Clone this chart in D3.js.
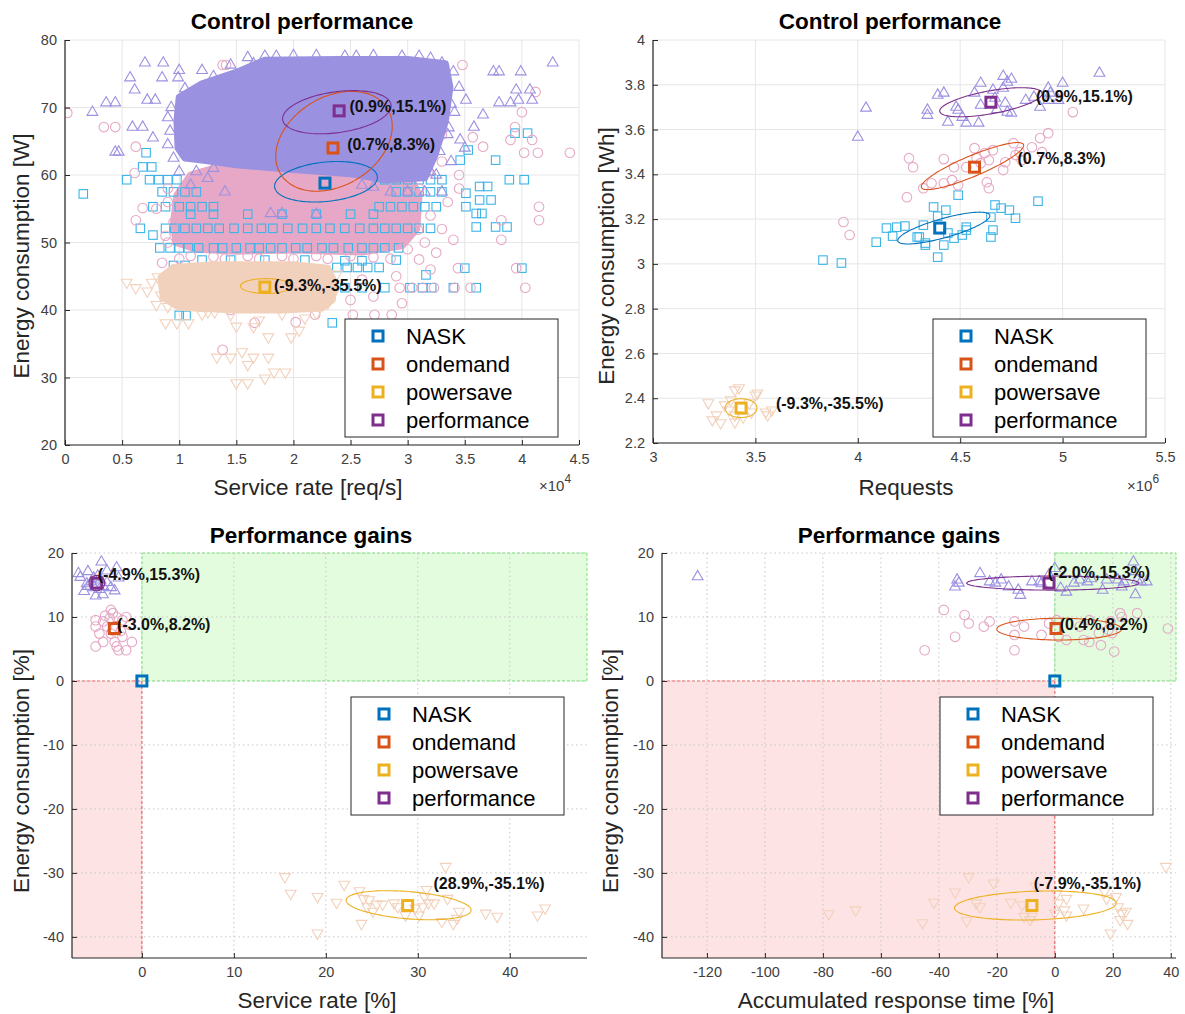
<!DOCTYPE html>
<html><head><meta charset="utf-8">
<script src="https://cdn.jsdelivr.net/npm/d3@7"></script>
<style>
body{margin:0;background:#fff;}
svg{display:block;font-family:"Liberation Sans",Arial,Helvetica,sans-serif;}
</style></head><body>
<svg id="chart" width="1185" height="1014"></svg>
<script>
// ---------------- shared ----------------
const seriesNames = ["NASK", "ondemand", "powersave", "performance"];
const meanColors = ["#0072BD", "#D95319", "#EDB120", "#7E2F8E"];
const pointColors = ["#3DB4E8", "#E6A8C6", "#F2D1BC", "#9B91E1"];
const markerShapes = ["square", "circle", "triDown", "triUp"];

// ---------------- panel 1: Control performance, service rate vs power ----------------
const p1XTicks = [0, 0.5, 1, 1.5, 2, 2.5, 3, 3.5, 4, 4.5];
const p1YTicks = [20, 30, 40, 50, 60, 70, 80];
// outlines of the saturated (overplotted) region of each cloud
const p1CoreOndemand = [[0.97,50],[0.95,53],[0.98,57],[1.1,60],[1.5,62],[2.5,62],[3.0,60.5],[3.1,57],[3.08,52],[2.95,49.5],[2.6,48.6],[2.0,48.9],[1.5,48.7],[1.15,49]];
const p1CorePowersave = [[0.84,44.8],[0.95,46.3],[1.3,46.7],[2.0,46.7],[2.3,46.2],[2.36,44],[2.34,41.5],[2.25,40.3],[1.9,40.0],[1.5,40.0],[1.0,40.4],[0.86,41.8]];
const p1CorePerformance = [[0.99,64],[0.98,68],[1.0,71.5],[1.2,73.5],[1.5,75.2],[1.75,77.0],[2.4,77.1],[3.0,77.1],[3.33,76.5],[3.37,73],[3.33,68],[3.24,63],[3.15,59.6],[2.8,59.3],[2.5,60.2],[2.0,60.8],[1.5,61.5],[1.2,62.2],[1.05,62.5]];
const p1NASK = [
 [0.83,49.2],[0.92,49.2],[1.0,49.2],[1.08,49.2],[1.17,49.2],[1.3,49.2],[1.38,49.2],[1.5,49.2],[1.62,49.2],[1.7,49.2],[1.8,49.2],[1.9,49.2],[2.02,49.2],[2.12,49.2],[2.25,49.2],[2.35,49.2],[2.48,49.2],[2.6,49.2],[2.7,49.2],[2.8,49.2],[2.92,49.2],
 [0.66,52.1],[0.88,52.1],[0.96,52.1],[1.05,52.1],[1.15,52.1],[1.25,52.1],[1.35,52.1],[1.48,52.1],[1.6,52.1],[1.72,52.1],[1.82,52.1],[1.95,52.1],[2.08,52.1],[2.2,52.1],[2.32,52.1],[2.45,52.1],[2.58,52.1],[2.7,52.1],[2.8,52.1],[2.9,52.1],[3.0,52.1],[3.1,52.1],[3.2,52.1],
 [1.1,54.2],[1.3,54.2],[1.6,54.2],[1.9,54.2],[2.2,54.2],[2.5,54.2],[2.7,54.2],[1.2,47.4],[1.45,47.4],[1.75,47.4],[2.1,47.4],[2.9,47.4],
 [2.38,46.3],[2.47,46.3],[2.56,46.3],[2.65,46.3],[2.75,46.3],[3.50,46.2],[4.0,46.2],[2.45,47.3],[2.6,47.3],[0.95,46.6],[1.05,46.6],
 [0.77,55.3],[0.88,55.3],[1.0,55.3],[1.1,55.3],[1.2,55.3],[1.3,55.3],[2.75,55.3],[2.85,55.3],[2.95,55.3],[3.05,55.3],[3.15,55.3],[3.25,55.3],[3.51,55.3],
 [0.16,57.2],[0.85,57.5],[0.95,57.5],[1.05,57.5],[1.15,57.5],[2.9,57.5],[3.0,57.5],[3.1,57.5],[3.2,57.5],[3.3,57.5],
 [0.54,59.3],[0.74,59.3],[0.82,59.3],[0.9,59.3],[0.98,59.3],[2.8,59.3],[2.9,59.3],[3.0,59.3],[3.1,59.3],[3.2,59.3],[3.3,59.3],[3.89,59.3],[4.02,59.3],
 [2.45,43.3],[2.6,43.3],[2.8,43.3],[3.02,43.3],[3.13,43.3],[3.21,43.3],[3.40,43.3],[3.60,43.3],
 [3.77,62.2],[3.53,63.7],[3.46,62.2],[3.94,66.2],[4.05,66.2],[0.71,63.3],[0.68,61.2],[0.76,61.2],[3.63,58.3],[3.70,58.3],[3.51,57.3],[3.63,56.3],[3.73,56.3],[3.6,54.3],[3.65,54.3],[3.60,52.3],[3.77,52.3],[3.87,52.3],[2.34,38.1],[1.0,39.2],[1.06,39.2],[2.3,45.2],[3.16,45.2],[0.77,51.1]
];
const p1Ondemand = [
 [0.02,69.2],[0.34,67.1],[0.44,67.1],[0.62,64.2],[1.38,76.3],[1.41,76.3],[1.71,76.3],[3.48,76.3],[4.12,72.3],[3.94,67.1],[4.0,69.3],[3.90,65.2],[4.09,65.2],[4.02,63.3],[4.14,63.3],[4.42,63.3],[4.15,55.3],[4.15,53.3],[3.82,53.3],[3.82,50.4],[3.40,50.4],[3.57,65.6],[3.66,64.2],[0.61,60.3],[0.68,55.1],[0.62,53.3],[3.09,51.9],[2.96,50.4],[3.44,46.2],[3.95,46.2],[4.03,43.3],[2.93,43.3],[3.04,43.3],[3.13,43.3],[3.23,43.3],[3.41,43.3],[3.55,43.3],[2.52,39.3],[2.71,39.3],[2.86,39.3],[2.19,39.3],[2.02,38.2],[1.66,38.1],[1.38,34.1],[1.45,40],[3.1,47.5],[3.2,46],[0.9,50],[0.85,47],[0.95,53],[3.3,62],[3.45,60],[3.3,66],[3.15,64],[2.5,41.5],[2.7,42],[2.95,41],[3.2,54],[3.3,52],[3.35,56],[3.1,58],[3.45,58],
 [1.0,47.6],[1.1,48],[1.3,47.9],[1.4,47.6],[1.6,48],[1.7,47.6],[1.9,48],[2.0,47.6],[2.2,48],[2.3,47.6],[2.5,48],[2.7,47.8],[2.85,47.6],[3.0,49],[2.6,44.5],[2.9,45],[0.8,55],[0.9,58],[0.88,51],[0.9,56],[3.15,50],[3.18,60.5],[3.25,48.5]
];
const p1Powersave = [
 [1.33,33.0],[1.45,33.0],[1.55,33.8],[1.65,33.0],[1.78,33.0],[1.60,31.9],[1.50,29.2],[1.60,29.2],[1.75,29.9],[1.83,30.8],[1.93,30.8],[1.98,36.0],[2.05,37.0],[1.78,36.0],[1.65,37.5],[1.50,37.6],[0.62,43.3],[0.54,44.1],[0.76,44.1],[0.81,44.9],[0.84,42.2],[0.88,38.1],[0.98,38.1],[1.08,38.1],[1.25,39.7],[1.31,39.7],[1.7,38.5],[2.2,39.5],[2.3,41],[0.9,40.5],[2.1,38.8],
 [0.72,42.8],[0.8,40.8],[1.2,39.4],[1.45,39.3],[1.9,39.4],[2.35,42.5],[2.38,45.3]
];
const p1Performance = [
 [0.24,69.3],[0.36,70.7],[0.44,70.7],[0.57,74.4],[0.70,76.6],[0.86,76.6],[0.61,72.6],[0.44,63.4],[0.47,63.4],[0.59,67.1],[0.68,67.1],[0.72,71.1],[0.85,74.4],[0.99,74.4],[0.79,71.1],[0.77,65.5],[0.90,68.5],[0.95,62.5],[1.0,60.5],[1.1,58.5],[1.25,59.5],[1.4,57.5],
 [3.75,75.3],[3.80,75.3],[3.99,75.3],[4.27,76.6],[3.95,72.6],[4.07,72.6],[3.97,71.1],[4.09,71.1],[3.80,70.7],[3.90,70.7],[3.66,68.9],[3.58,67.1],[3.41,69.3],[3.51,71.1],[3.46,65.2],[3.30,76.6],[3.40,75.3],[3.45,73],[3.38,62],[3.25,60],[3.0,57.5],[3.15,57.5],[3.3,57.5],[2.85,57.5],[1.8,54.3],[1.9,54.3],[2.2,54.2],[3.5,64],[3.35,66],[1.2,75.5],[1.45,76.3],[1.0,75.5],
 [1.6,77.4],[1.75,77.6],[1.85,77.6],[2.45,77.6],[2.55,77.6],[2.95,77.6],[3.1,77.6],[3.2,77.3],[2.6,58.5],[2.7,58.2],[1.3,61],[1.15,60.5],
 [0.9,64.5],[0.92,66.5],[0.93,70],[1.05,72.8],[1.3,74.6],[1.65,76.5],[2.0,77.7],[2.2,77.7],[2.7,77.7],[3.38,70.5],[3.36,67],[3.28,63.5],[3.2,60.5]
];
const p1Means = [[2.276,58.8],[2.346,64.0],[1.75,43.4],[2.40,69.5]];
const p1Ellipses = [[2.285,59.0,0.45,3.0,0.22],[2.355,65.0,0.51,7.4,0.3],[1.76,43.55,0.224,1.1,0],[2.38,69.3,0.475,3.2,0.3]];
const p1Labels = [null, "(0.7%,8.3%)", "(-9.3%,-35.5%)", "(0.9%,15.1%)"];
const p1LabelAt = [null, [2.47,64.6], [1.83,43.7], [2.49,70.2]];

// ---------------- panel 2: Control performance, requests vs energy ----------------
const p2XTicks = [3, 3.5, 4, 4.5, 5, 5.5];
const p2YTicks = [2.2, 2.4, 2.6, 2.8, 3, 3.2, 3.4, 3.6, 3.8, 4];
const p2NASK = [[3.83,3.017],[3.92,3.004],[4.09,3.097],[4.14,3.16],[4.19,3.164],[4.23,3.169],[4.17,3.124],[4.30,3.12],[4.33,3.093],[4.33,3.084],[4.32,3.173],[4.37,3.254],[4.39,3.213],[4.43,3.24],[4.49,3.307],[4.44,3.138],[4.47,3.115],[4.42,3.084],[4.53,3.164],[4.53,3.151],[4.51,3.129],[4.65,3.209],[4.66,3.151],[4.65,3.12],[4.67,3.263],[4.70,3.249],[4.74,3.24],[4.77,3.204],[4.88,3.28],[4.39,3.03],[4.29,3.12]];
const p2Ondemand = [[3.93,3.187],[3.96,3.129],[4.25,3.472],[4.27,3.432],[4.24,3.298],[4.32,3.338],[4.36,3.36],[4.42,3.36],[4.42,3.468],[4.46,3.374],[4.47,3.432],[4.49,3.351],[4.53,3.432],[4.57,3.517],[4.58,3.472],[4.60,3.45],[4.62,3.495],[4.63,3.365],[4.64,3.338],[4.66,3.508],[4.64,3.463],[4.71,3.419],[4.72,3.454],[4.76,3.539],[4.77,3.486],[4.80,3.463],[4.79,3.499],[4.85,3.521],[4.89,3.562],[4.93,3.584],[4.90,3.499],[5.05,3.678]];
const p2Powersave = [[3.27,2.379],[3.29,2.303],[3.33,2.29],[3.35,2.37],[3.38,2.392],[3.40,2.437],[3.42,2.446],[3.40,2.325],[3.40,2.294],[3.44,2.316],[3.48,2.338],[3.50,2.414],[3.51,2.423],[3.55,2.338],[3.56,2.325],[3.58,2.347],[3.31,2.325],[3.37,2.347],[3.47,2.379]];
const p2Performance = [[4.04,3.696],[4.00,3.566],[4.39,3.754],[4.42,3.763],[4.34,3.687],[4.34,3.664],[4.44,3.633],[4.48,3.70],[4.49,3.687],[4.51,3.655],[4.53,3.629],[4.59,3.629],[4.57,3.763],[4.60,3.807],[4.60,3.709],[4.66,3.776],[4.67,3.74],[4.71,3.838],[4.73,3.812],[4.75,3.825],[4.71,3.785],[4.72,3.718],[4.73,3.678],[4.75,3.673],[4.82,3.731],[4.86,3.745],[4.89,3.70],[4.93,3.785],[4.94,3.763],[5.0,3.807],[4.98,3.731],[4.93,3.731],[5.18,3.852],[4.68,3.69]];
const p2Means = [[4.40,3.16],[4.57,3.432],[3.43,2.356],[4.65,3.722]];
const p2Ellipses = [[4.42,3.16,0.225,0.071,0.78],[4.56,3.437,0.25,0.105,0.88],[3.43,2.356,0.078,0.042,0],[4.65,3.722,0.25,0.065,0.6]];
const p2Labels = [null, "(0.7%,8.3%)", "(-9.3%,-35.5%)", "(0.9%,15.1%)"];
const p2LabelAt = [null, [4.78,3.472], [3.60,2.379], [4.87,3.749]];

// ---------------- panel 3: Performance gains, service rate ----------------
const p3XTicks = [0, 10, 20, 30, 40];
const p3YTicks = [-40, -30, -20, -10, 0, 10, 20];
const p3Ondemand = [[-5.03,9.5],[-4.21,9.3],[-3.37,11.1],[-3.16,10.6],[-2.75,10.0],[-2.12,9.5],[-1.71,10.0],[-5.03,5.4],[-4.21,6.1],[-2.54,4.8],[-1.71,4.8],[-1.09,6.1],[-2.12,6.9],[-3.37,7.4],[-4.62,7.4],[-2.96,6.1],[-1.29,8.75],[-3.78,8.5],[-5.03,8.5],[-2.75,5.4],[-3.5,9.8],[-2.3,7.8],[-4.0,10.2]];
const p3Powersave = [[15.55,-30.6],[16.18,-33.2],[19.09,-33.7],[19.09,-39.4],[21.17,-34.6],[22.0,-31.8],[23.66,-32.8],[23.88,-37.9],[24.09,-34.0],[24.71,-34.2],[25.12,-36.0],[25.54,-34.9],[26.16,-34.9],[27.83,-35.3],[28.66,-36.6],[29.7,-35.5],[30.12,-36.6],[30.53,-35.3],[30.74,-33.7],[30.95,-32.6],[31.15,-34.7],[31.78,-34.7],[32.61,-37.6],[33.03,-29.0],[33.24,-34.0],[33.86,-37.9],[34.27,-37.1],[34.48,-36.0],[37.39,-36.3],[38.64,-36.8],[43.01,-36.6],[43.84,-35.5],[27.41,-34.7],[24.5,-35.3]];
const p3Performance = [[-6.9,16.8],[-5.87,17.1],[-4.41,18.6],[-3.80,17.2],[-2.75,17.7],[-2.54,16.1],[-2.96,14.1],[-4.24,13.5],[-5.03,13.3],[-6.28,14.0],[-6.70,16.2],[-5.24,16.1],[-3.80,15.4],[-3.37,14.6],[-5.87,14.8],[-4.62,14.3],[-5.5,15.5],[-4.5,15.8],[-6.0,15.2],[-4.2,14.8],[-5.2,14.6],[-4.8,16.4]];
const p3Means = [[0,0],[-3.0,8.2],[28.9,-35.1],[-4.9,15.3]];
const p3Ellipses = [null,[-3.0,8.2,0.65,1.0,0.3],[29.0,-35.05,6.8,2.27,-0.34],[-4.9,15.3,0.85,1.2,0]];
const p3Labels = [null, "(-3.0%,8.2%)", "(28.9%,-35.1%)", "(-4.9%,15.3%)"];
const p3LabelAt = [null, [-2.7,8.9], [31.7,-31.6], [-4.8,16.7]];

// ---------------- panel 4: Performance gains, accumulated response time ----------------
const p4XTicks = [-120, -100, -80, -60, -40, -20, 0, 20, 40];
const p4YTicks = [-40, -30, -20, -10, 0, 10, 20];
const p4Ondemand = [[-44.9,4.8],[-38.3,11.1],[-34.4,6.9],[-31.1,10.3],[-29.7,9.0],[-24.5,8.5],[-22.5,9.3],[-13.9,9.3],[-13.9,7.2],[-13.9,4.8],[-10.6,8.5],[-4.6,7.2],[-2.0,9.0],[0.65,9.5],[1.3,6.9],[4.0,6.4],[8.6,8.5],[9.9,6.4],[11.9,9.5],[11.9,6.1],[15.2,7.5],[15.9,5.6],[18.5,8.0],[19.2,9.3],[19.8,7.5],[20.5,4.6],[22.5,10.6],[23.1,10.0],[28.4,10.6],[39.0,8.2]];
const p4Powersave = [[-78.0,-36.4],[-68.7,-35.8],[-45.6,-37.8],[-41.7,-34.6],[-34.4,-33.0],[-29.7,-30.6],[-30.4,-37.5],[-27.1,-34.7],[-25.8,-35.3],[-21.1,-31.6],[-15.2,-34.6],[-11.3,-35.0],[-10.6,-36.8],[-8.6,-37.3],[-7.9,-36.8],[-6.6,-32.1],[0.65,-33.2],[4.0,-34.0],[3.3,-35.8],[4.0,-36.6],[9.9,-35.5],[17.2,-32.9],[17.9,-34.0],[21.1,-33.7],[21.8,-35.3],[22.5,-37.3],[23.1,-36.3],[24.5,-36.0],[25.1,-37.9],[19.2,-39.4],[38.3,-29.0],[1.3,-34.7],[0,-36.3]];
const p4Performance = [[-123.2,16.3],[-34.4,14.7],[-33.7,15.8],[-33.1,15.3],[-25.8,16.8],[-22.5,15.5],[-20.5,15.3],[-18.5,15.8],[-15.9,14.7],[-12.6,14.2],[-11.9,13.4],[-7.9,15.5],[-5.3,15.5],[-4.6,15.2],[-2.0,16.6],[0,17.6],[2.0,14.5],[4.0,13.9],[6.6,15.3],[8.6,15.8],[11.2,15.5],[12.5,16.0],[16.5,14.2],[17.9,15.8],[21.8,15.8],[23.1,14.7],[23.8,15.5],[27.1,18.6],[27.8,13.5],[28.4,15.8],[29.7,15.5],[31.7,15.5],[27.8,17.1]];
const p4Means = [[0,0],[0.4,8.2],[-7.9,-35.1],[-2.0,15.3]];
const p4Ellipses = [null,[1.5,8.1,21.5,1.7,0],[-6.7,-35.1,27.9,2.27,0.17],[-0.7,15.3,29.7,1.1,0]];
const p4Labels = [null, "(0.4%,8.2%)", "(-7.9%,-35.1%)", "(-2.0%,15.3%)"];
const p4LabelAt = [null, [1.7,8.9], [-7.3,-31.6], [-2.4,16.9]];

// ---------------- layout ----------------
const panels = [
 {box:[65,579,40,445], xDom:[0,4.5], yDom:[20,80], xTicks:p1XTicks, yTicks:p1YTicks, dotted:false,
  title:"Control performance", titleAt:[302,21], xLabel:"Service rate [req/s]", xLabelAt:[308,487], yLabel:"Energy consumption [W]", yLabelAt:[21,256],
  exp:"4", expAt:[539,491], legendAt:[345,319],
  points:[p1NASK,p1Ondemand,p1Powersave,p1Performance], cores:[null,p1CoreOndemand,p1CorePowersave,p1CorePerformance],
  means:p1Means, ellipses:p1Ellipses, labels:p1Labels, labelAt:p1LabelAt},
 {box:[653,1165,40,443], xDom:[3,5.5], yDom:[2.2,4], xTicks:p2XTicks, yTicks:p2YTicks, dotted:false,
  title:"Control performance", titleAt:[890,21], xLabel:"Requests", xLabelAt:[906,487], yLabel:"Energy consumption [Wh]", yLabelAt:[606,256],
  exp:"6", expAt:[1127,491], legendAt:[933,319],
  points:[p2NASK,p2Ondemand,p2Powersave,p2Performance], cores:null,
  means:p2Means, ellipses:p2Ellipses, labels:p2Labels, labelAt:p2LabelAt},
 {box:[72,587,553,958], xDom:[-7.6,48.4], yDom:[-43.3,20], xTicks:p3XTicks, yTicks:p3YTicks, dotted:true, zones:true,
  title:"Performance gains", titleAt:[311,535], xLabel:"Service rate [%]", xLabelAt:[317,1000], yLabel:"Energy consumption [%]", yLabelAt:[21,771],
  exp:null, legendAt:[351,697],
  points:[[],p3Ondemand,p3Powersave,p3Performance], cores:null,
  means:p3Means, ellipses:p3Ellipses, labels:p3Labels, labelAt:p3LabelAt},
 {box:[662,1176,553,958], xDom:[-135.5,41.8], yDom:[-43.3,20], xTicks:p4XTicks, yTicks:p4YTicks, dotted:true, zones:true,
  title:"Performance gains", titleAt:[899,535], xLabel:"Accumulated response time [%]", xLabelAt:[896,1000], yLabel:"Energy consumption [%]", yLabelAt:[610,771],
  exp:null, legendAt:[940,697],
  points:[[],p4Ondemand,p4Powersave,p4Performance], cores:null,
  means:p4Means, ellipses:p4Ellipses, labels:p4Labels, labelAt:p4LabelAt}
];

const svg = d3.select("#chart");

function drawMarker(g, shape, x, y, color, opt) {
  const sw = opt.sw || 1;
  if (shape === "square") {
    const a = opt.sq || 8;
    g.append("rect").attr("x", x - a/2).attr("y", y - a/2).attr("width", a).attr("height", a)
      .attr("fill", "none").attr("stroke", color).attr("stroke-width", sw);
  } else if (shape === "circle") {
    g.append("circle").attr("cx", x).attr("cy", y).attr("r", opt.r || 4.8)
      .attr("fill", "none").attr("stroke", color).attr("stroke-width", sw);
  } else {
    const rot = shape === "triDown" ? 180 : 0;
    g.append("path").attr("d", d3.symbol(d3.symbolTriangle, opt.tri || 48)())
      .attr("transform", `translate(${x},${y}) rotate(${rot})`)
      .attr("fill", "none").attr("stroke", color).attr("stroke-width", sw);
  }
}
function ellipsePts(e) {
  const [cx, cy, sx, sy, rho] = e;
  const pts = [];
  for (let k = 0; k <= 120; k++) {
    const t = 2 * Math.PI * k / 120;
    pts.push([cx + sx * Math.cos(t), cy + sy * (rho * Math.cos(t) + Math.sqrt(1 - rho * rho) * Math.sin(t))]);
  }
  return pts;
}

panels.forEach((p, pi) => {
  const [L, R, T, B] = p.box;
  const x = d3.scaleLinear().domain(p.xDom).range([L, R]);
  const y = d3.scaleLinear().domain(p.yDom).range([B, T]);
  const g = svg.append("g");
  const clipId = "clip" + pi;
  svg.append("clipPath").attr("id", clipId).append("rect").attr("x", L).attr("y", T - 2).attr("width", R - L + 2).attr("height", B - T + 2);

  if (p.zones) {
    g.append("rect").attr("x", x(0)).attr("y", y(20)).attr("width", x(p.xDom[1]) - x(0)).attr("height", y(0) - y(20))
      .attr("fill", "#E2FCDD").attr("stroke", "#6EE66E").attr("stroke-width", 1).attr("stroke-dasharray", "3,2");
    g.append("rect").attr("x", x(p.xDom[0])).attr("y", y(0)).attr("width", x(0) - x(p.xDom[0])).attr("height", y(p.yDom[0]) - y(0))
      .attr("fill", "#FDE3E3");
    g.append("line").attr("x1", x(p.xDom[0])).attr("x2", x(0)).attr("y1", y(0)).attr("y2", y(0))
      .attr("stroke", "#F05A5A").attr("stroke-dasharray", "3,2");
    g.append("line").attr("x1", x(0)).attr("x2", x(0)).attr("y1", y(0)).attr("y2", y(p.yDom[0]))
      .attr("stroke", "#F03C3C").attr("stroke-dasharray", "3,2");
  }
  const gridColor = p.dotted ? "#C8C8C8" : "#E6E6E6";
  const grid = g.append("g").attr("stroke", gridColor).attr("stroke-width", 1);
  if (p.dotted) grid.attr("stroke-dasharray", "1.5,3");
  p.xTicks.forEach(v => grid.append("line").attr("x1", x(v)).attr("x2", x(v)).attr("y1", T).attr("y2", B));
  p.yTicks.forEach(v => grid.append("line").attr("x1", L).attr("x2", R).attr("y1", y(v)).attr("y2", y(v)));

  const plot = g.append("g").attr("clip-path", `url(#${clipId})`);
  const coreLine = d3.line().x(d => x(d[0])).y(d => y(d[1])).curve(d3.curveLinearClosed);
  const drawCore = s => plot.append("path").attr("d", coreLine(p.cores[s])).attr("fill", pointColors[s])
      .attr("stroke", pointColors[s]).attr("stroke-width", 7).attr("stroke-linejoin", "round");
  if (p.cores && p.cores[1]) drawCore(1);
  for (let s = 0; s < 4; s++) {
    if (p.cores && s >= 2 && p.cores[s]) drawCore(s);
    p.points[s].forEach(d => drawMarker(plot, markerShapes[s], x(d[0]), y(d[1]), pointColors[s], {sw: 1.1, sq: 8.5, r: 4.8, tri: 50}));
  }
  const eLine = d3.line().x(d => x(d[0])).y(d => y(d[1]));
  p.ellipses.forEach((e, s) => {
    if (!e) return;
    plot.append("path").attr("d", eLine(ellipsePts(e))).attr("fill", "none").attr("stroke", meanColors[s]).attr("stroke-width", 1.1);
  });
  p.means.forEach((m, s) => drawMarker(g, "square", x(m[0]), y(m[1]), meanColors[s], {sw: 3, sq: 10}));
  p.labels.forEach((t, s) => {
    if (!t) return;
    const a = p.labelAt[s];
    g.append("text").attr("x", x(a[0])).attr("y", y(a[1])).attr("dy", "0.35em")
      .attr("font-size", 16).attr("font-weight", "bold").attr("fill", "#111").text(t);
  });

  const fmt = v => String(v);
  const ax = g.append("g").attr("transform", `translate(0,${B})`)
    .call(d3.axisBottom(x).tickValues(p.xTicks).tickFormat(fmt).tickSizeInner(-5).tickSizeOuter(0).tickPadding(9));
  const ay = g.append("g").attr("transform", `translate(${L},0)`)
    .call(d3.axisLeft(y).tickValues(p.yTicks).tickFormat(fmt).tickSizeInner(-5).tickSizeOuter(0).tickPadding(8));
  [ax, ay].forEach(a => {
    a.select(".domain").attr("stroke", "#262626").attr("stroke-width", 1.2);
    a.selectAll(".tick line").attr("stroke", "#262626");
    a.selectAll(".tick text").attr("fill", "#404040").attr("font-size", 14.5).attr("font-family", "Liberation Sans, Arial, sans-serif");
  });
  ax.select(".domain").attr("d", `M${L},0H${R}`);
  ay.select(".domain").attr("d", `M0,${B}V${T}`);

  if (p.exp) {
    const t = g.append("text").attr("x", p.expAt[0]).attr("y", p.expAt[1]).attr("font-size", 15).attr("fill", "#404040");
    t.append("tspan").text("\u00d710");
    t.append("tspan").attr("dy", -8).attr("font-size", 12).text(p.exp);
  }
  g.append("text").attr("x", p.titleAt[0]).attr("y", p.titleAt[1]).attr("dy", "0.35em").attr("text-anchor", "middle")
    .attr("font-size", 22.5).attr("font-weight", "bold").attr("fill", "#000").text(p.title);
  g.append("text").attr("x", p.xLabelAt[0]).attr("y", p.xLabelAt[1]).attr("dy", "0.35em").attr("text-anchor", "middle")
    .attr("font-size", 22.5).attr("fill", "#262626").text(p.xLabel);
  g.append("text").attr("transform", `translate(${p.yLabelAt[0]},${p.yLabelAt[1]}) rotate(-90)`).attr("dy", "0.35em").attr("text-anchor", "middle")
    .attr("font-size", 22.5).attr("fill", "#262626").text(p.yLabel);

  const [lx, ly] = p.legendAt;
  const lg = g.append("g");
  lg.append("rect").attr("x", lx).attr("y", ly).attr("width", 213).attr("height", 118)
    .attr("fill", "#fff").attr("stroke", "#262626").attr("stroke-width", 1);
  seriesNames.forEach((n, s) => {
    const cy = ly + 17 + s * 28;
    drawMarker(lg, "square", lx + 33, cy, meanColors[s], {sw: 3, sq: 10});
    lg.append("text").attr("x", lx + 61).attr("y", cy).attr("dy", "0.35em").attr("font-size", 22).attr("fill", "#000").text(n);
  });
});
</script></body></html>
